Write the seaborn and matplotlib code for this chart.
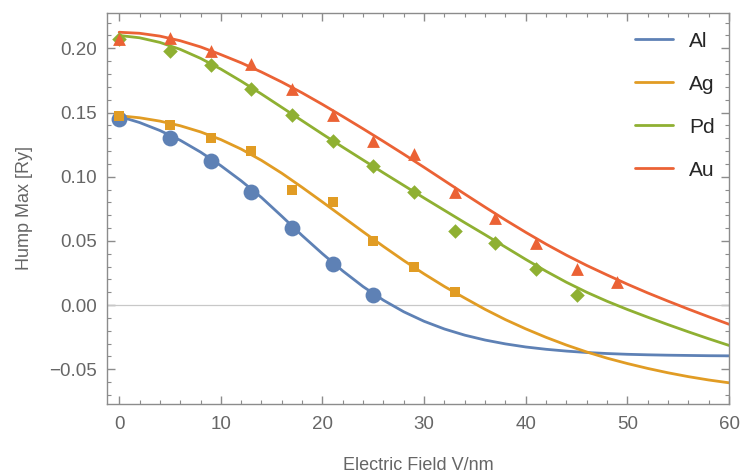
import numpy as np
import pandas as pd
import matplotlib
matplotlib.use("Agg")
import matplotlib.pyplot as plt
from matplotlib.ticker import MultipleLocator, FuncFormatter
from matplotlib.lines import Line2D
import seaborn as sns

# --- data ---
metals = ["Al", "Ag", "Pd", "Au"]
colors = {"Al": "#5E81B5", "Ag": "#E19C24", "Pd": "#8FB032", "Au": "#EB6235"}

# measured points
al_x = [0, 5, 9, 13, 17, 21, 25]
al_y = [0.145, 0.130, 0.112, 0.088, 0.060, 0.032, 0.008]
ag_x = [0, 5, 9, 13, 17, 21, 25, 29, 33]
ag_y = [0.147, 0.140, 0.130, 0.120, 0.090, 0.080, 0.050, 0.030, 0.010]
pd_x = [0, 5, 9, 13, 17, 21, 25, 29, 33, 37, 41, 45]
pd_y = [0.207, 0.198, 0.187, 0.168, 0.148, 0.128, 0.108, 0.088, 0.058, 0.048, 0.028, 0.008]
au_x = [0, 5, 9, 13, 17, 21, 25, 29, 33, 37, 41, 45, 49]
au_y = [0.207, 0.208, 0.198, 0.188, 0.168, 0.148, 0.128, 0.118, 0.088, 0.068, 0.048, 0.028, 0.018]

# fitted curves, every 2 V/nm
fit_x = list(range(0, 61, 2))
al_fit = [0.1470, 0.1422, 0.1360, 0.1284, 0.1192, 0.1086, 0.0968, 0.0838, 0.0692, 0.0542,
          0.0400, 0.0266, 0.0144, 0.0038, -0.0052, -0.0126, -0.0186, -0.0234, -0.0272,
          -0.0302, -0.0326, -0.0344, -0.0358, -0.0369, -0.0377, -0.0383, -0.0387, -0.0390,
          -0.0392, -0.0394, -0.0395]
ag_fit = [0.1475, 0.1459, 0.1433, 0.1397, 0.1349, 0.1289, 0.1215, 0.1127, 0.1027, 0.0917,
          0.0803, 0.0687, 0.0571, 0.0457, 0.0347, 0.0243, 0.0145, 0.0055, -0.0033, -0.0113,
          -0.0185, -0.0251, -0.0311, -0.0365, -0.0413, -0.0455, -0.0493, -0.0527, -0.0557,
          -0.0583, -0.0605]
pd_fit = [0.2100, 0.2082, 0.2046, 0.1992, 0.1922, 0.1838, 0.1744, 0.1644, 0.1540, 0.1436,
          0.1332, 0.1230, 0.1130, 0.1030, 0.0932, 0.0834, 0.0738, 0.0642, 0.0548, 0.0452,
          0.0356, 0.0264, 0.0178, 0.0100, 0.0030, -0.0034, -0.0094, -0.0152, -0.0208,
          -0.0262, -0.0314]
au_fit = [0.2125, 0.2117, 0.2095, 0.2059, 0.2011, 0.1951, 0.1887, 0.1815, 0.1737, 0.1653,
          0.1563, 0.1469, 0.1373, 0.1275, 0.1175, 0.1073, 0.0969, 0.0865, 0.0763, 0.0663,
          0.0567, 0.0475, 0.0389, 0.0309, 0.0235, 0.0163, 0.0095, 0.0031, -0.0031, -0.0091,
          -0.0149]

points = pd.concat([
    pd.DataFrame({"metal": "Al", "field": al_x, "hump": al_y}),
    pd.DataFrame({"metal": "Ag", "field": ag_x, "hump": ag_y}),
    pd.DataFrame({"metal": "Pd", "field": pd_x, "hump": pd_y}),
    pd.DataFrame({"metal": "Au", "field": au_x, "hump": au_y}),
])
curves = pd.concat([
    pd.DataFrame({"metal": m, "field": fit_x, "hump": v})
    for m, v in zip(metals, [al_fit, ag_fit, pd_fit, au_fit])
])

# --- plot ---
sns.set_style("ticks")
plt.rcParams["font.family"] = ["Liberation Sans", "DejaVu Sans"]

fig = plt.figure(figsize=(7.42, 4.74), dpi=100)
ax = fig.add_axes([0.1442, 0.1477, 0.8383, 0.8249])

ax.axhline(0, color="#c8c8c8", lw=0.9, zorder=1)

sns.lineplot(data=curves, x="field", y="hump", hue="metal", palette=colors,
             hue_order=metals, lw=2.0, legend=False, ax=ax, zorder=2)

marker_style = {"Al": ("o", 130), "Ag": ("s", 50), "Pd": ("D", 55), "Au": ("^", 85)}
for m in metals:
    mk, s = marker_style[m]
    sns.scatterplot(data=points[points.metal == m], x="field", y="hump", color=colors[m],
                    marker=mk, s=s, linewidth=0, ax=ax, zorder=3, legend=False)

ax.set_xlim(-1.2, 60)
ax.set_ylim(-0.077, 0.2275)

ax.xaxis.set_major_locator(MultipleLocator(10))
ax.xaxis.set_minor_locator(MultipleLocator(2))
ax.yaxis.set_major_locator(MultipleLocator(0.05))
ax.yaxis.set_minor_locator(MultipleLocator(0.01))
ax.yaxis.set_major_formatter(FuncFormatter(lambda v, p: f"{v:.2f}".replace("-", "\u2212")))

gray = "#666666"
for sp in ax.spines.values():
    sp.set_color("#8c8c8c")
    sp.set_linewidth(1.0)
ax.tick_params(which="both", direction="in", top=True, right=True, colors="#8c8c8c",
               labelcolor=gray, labelsize=13.5)
ax.tick_params(which="major", length=6, width=1.0, pad=7)
ax.tick_params(axis="x", which="major", pad=9)
ax.tick_params(which="minor", length=3, width=0.8)

ax.set_xlabel("Electric Field V/nm", fontsize=13, color=gray, labelpad=17)
ax.set_ylabel("Hump Max [Ry]", fontsize=13, color=gray, labelpad=12)

handles = [Line2D([0], [0], color=colors[m], lw=2.0) for m in metals]
ax.legend(handles, metals, loc="upper right", bbox_to_anchor=(1.007, 1.0), frameon=False,
          fontsize=15, handlelength=1.85, handletextpad=0.75, labelspacing=1.15)

fig.savefig("out.png", dpi=100)
